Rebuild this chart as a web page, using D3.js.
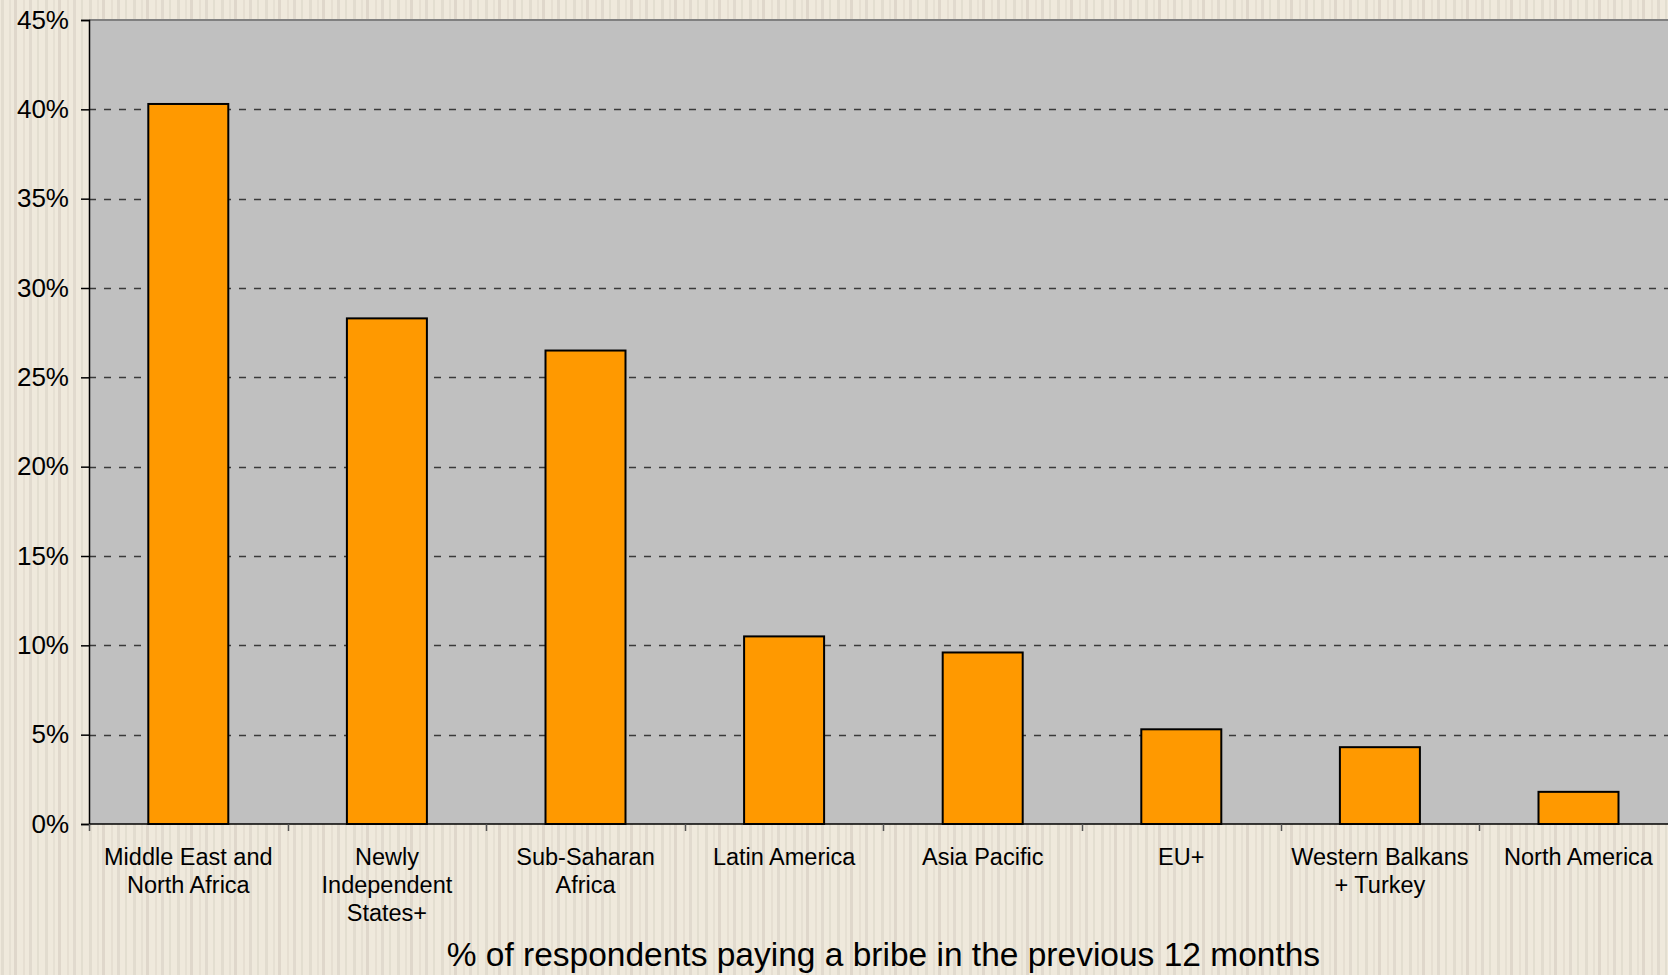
<!DOCTYPE html>
<html>
<head>
<meta charset="utf-8">
<script src="https://cdn.jsdelivr.net/npm/d3@7"></script>
<style>
  html, body { margin: 0; padding: 0; background: #efe9dc; overflow: hidden; }
  svg { display: block; }
  text { font-family: "Liberation Sans", Arial, Helvetica, sans-serif; fill: #000; }
</style>
</head>
<body>
<svg id="chart" width="1668" height="975"></svg>
<script>
// Regions and the share of respondents who paid a bribe (%)
const regions = [
  ["Middle East and", "North Africa"],
  ["Newly", "Independent", "States+"],
  ["Sub-Saharan", "Africa"],
  ["Latin America"],
  ["Asia Pacific"],
  ["EU+"],
  ["Western Balkans", "+ Turkey"],
  ["North America"]
];
const bribeShare = [40.3, 28.3, 26.5, 10.5, 9.6, 5.3, 4.3, 1.8];
const yTicks = [0, 5, 10, 15, 20, 25, 30, 35, 40, 45];
const xTitle = "% of respondents paying a bribe in the previous 12 months";

const W = 1668, H = 975;
const plot = { left: 89, top: 20, bottom: 824, bandW: 198.6 };
plot.right = plot.left + plot.bandW * regions.length;

const svg = d3.select("#chart");
const defs = svg.append("defs");

// Striped paper background
const pat = defs.append("pattern")
  .attr("id", "stripes").attr("patternUnits", "userSpaceOnUse")
  .attr("width", 44).attr("height", 10);
pat.append("rect").attr("width", 44).attr("height", 10).attr("fill", "#efe9dc");
[[1, 3, 0.45], [9, 2, 0.3], [14, 3, 0.6], [23, 2, 0.35], [29, 3, 0.5], [37, 2, 0.4]]
  .forEach(([x, w, o]) => pat.append("rect")
    .attr("x", x).attr("width", w).attr("height", 10)
    .attr("fill", "#d3ccbf").attr("opacity", o));
svg.append("rect").attr("width", W).attr("height", H).attr("fill", "url(#stripes)");

const keys = regions.map((r, i) => i);
const x = d3.scaleBand().domain(keys).range([plot.left, plot.right]).paddingInner(0).paddingOuter(0);
const y = d3.scaleLinear().domain([0, 45]).range([plot.bottom, plot.top]);

// Plot area
svg.append("rect")
  .attr("x", plot.left).attr("y", plot.top)
  .attr("width", plot.right - plot.left).attr("height", plot.bottom - plot.top)
  .attr("fill", "#c0c0c0");
svg.append("line")
  .attr("x1", plot.left).attr("x2", W)
  .attr("y1", plot.top).attr("y2", plot.top)
  .attr("stroke", "#808080").attr("stroke-width", 2);

// Dashed gridlines
svg.append("g").selectAll("line")
  .data(yTicks.filter(t => t > 0 && t < 45))
  .join("line")
  .attr("x1", plot.left).attr("x2", plot.right)
  .attr("y1", d => Math.round(y(d)) + 0.5).attr("y2", d => Math.round(y(d)) + 0.5)
  .attr("stroke", "#3a3a3a").attr("stroke-width", 1.3)
  .attr("stroke-dasharray", "7,8");

// Bars
const barW = 80;
svg.append("g").selectAll("rect")
  .data(bribeShare)
  .join("rect")
  .attr("x", (d, i) => x(i) + (x.bandwidth() - barW) / 2)
  .attr("y", d => y(d))
  .attr("width", barW)
  .attr("height", d => y(0) - y(d))
  .attr("fill", "#ff9900")
  .attr("stroke", "#000").attr("stroke-width", 2);

// Y axis
const yAxis = svg.append("g")
  .attr("transform", `translate(${plot.left},0)`)
  .call(d3.axisLeft(y).tickValues(yTicks).tickFormat(d => d + "%").tickSize(8).tickPadding(12));
yAxis.select(".domain").attr("stroke", "#000").attr("stroke-width", 1.5);
yAxis.selectAll(".tick line").attr("stroke", "#000").attr("stroke-width", 1.5);
yAxis.selectAll(".tick text")
  .style("font-family", '"Liberation Sans", Arial, sans-serif')
  .attr("font-size", 26).attr("fill", "#000");

// X axis: tick marks at band boundaries
const xg = svg.append("g");
xg.append("line")
  .attr("x1", plot.left).attr("x2", W)
  .attr("y1", plot.bottom).attr("y2", plot.bottom)
  .attr("stroke", "#000").attr("stroke-width", 1.5);
xg.selectAll("line.tk")
  .data(keys)
  .join("line").attr("class", "tk")
  .attr("x1", d => Math.round(x(d)) + 0.5).attr("x2", d => Math.round(x(d)) + 0.5)
  .attr("y1", plot.bottom).attr("y2", plot.bottom + 7)
  .attr("stroke", "#555").attr("stroke-width", 1.5);

// Category labels
const labels = svg.append("g").selectAll("text")
  .data(regions)
  .join("text")
  .attr("x", (d, i) => x(i) + x.bandwidth() / 2)
  .attr("y", 865)
  .attr("text-anchor", "middle")
  .attr("font-size", 23.5);
labels.selectAll("tspan")
  .data(d => d)
  .join("tspan")
  .attr("x", function () { return d3.select(this.parentNode).attr("x"); })
  .attr("dy", (d, i) => i === 0 ? 0 : 28)
  .text(d => d);

// Axis title
svg.append("text")
  .attr("x", (plot.left + plot.right) / 2)
  .attr("y", 966)
  .attr("text-anchor", "middle")
  .attr("font-size", 33.5)
  .text(xTitle);
</script>
</body>
</html>
